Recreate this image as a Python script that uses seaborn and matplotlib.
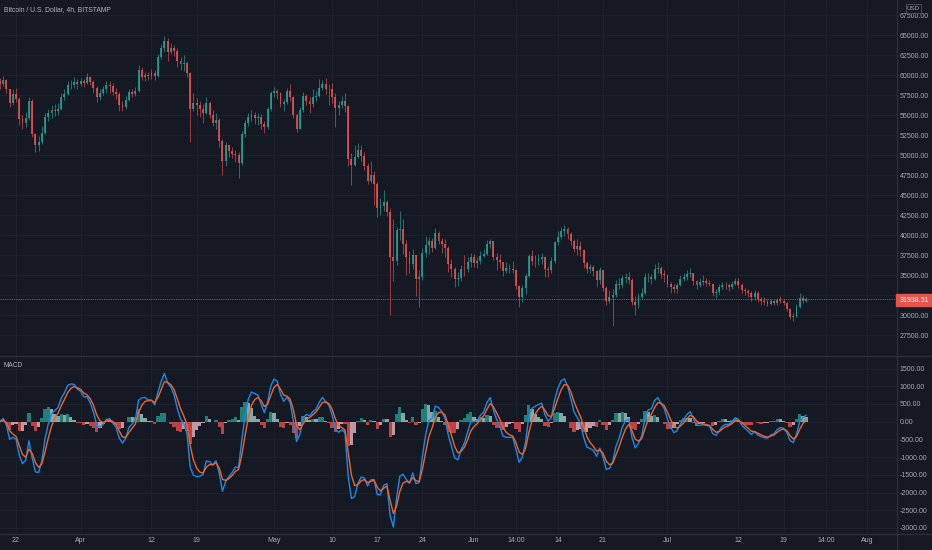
import numpy as np
import pandas as pd
import matplotlib
matplotlib.use("Agg")
import matplotlib.pyplot as plt
import matplotlib.dates as mdates
from matplotlib.patches import Rectangle
import seaborn as sns

# 12h bars, prices in thousands of USD, one line per day
first_open_k = 59.2
close_k = [
    58.9,
    59.4, 58.2, 56.5, 57.6, 57.0, 54.5, 54.0, 54.6, 56.8, 52.6, 51.3, 51.6,
    52.8, 54.8, 55.2, 55.6, 55.5, 55.8, 57.2, 57.6, 58.7, 58.8, 59.1, 58.9,
    59.3, 59.0, 59.7, 59.1, 58.4, 57.2, 57.8, 58.3, 58.8, 58.6, 57.9, 57.6,
    56.2, 56.0, 56.9, 57.9, 57.6, 58.0, 60.6, 59.8, 60.0, 59.9, 60.3, 59.9,
    62.3, 63.4, 64.3, 62.9, 63.4, 63.0, 61.8, 61.4, 61.5, 60.3, 55.8, 56.5,
    56.2, 55.7, 55.3, 56.5, 55.0, 54.0, 54.4, 51.7, 49.3, 51.2, 50.5, 50.1,
    50.0, 49.0, 52.6, 54.0, 54.8, 55.0, 54.6, 54.8, 53.9, 53.5, 55.8, 57.7,
    58.0, 57.7, 56.4, 56.6, 58.0, 57.2, 55.0, 53.3, 55.6, 57.4, 56.8, 56.4,
    57.2, 57.4, 58.4, 58.9, 58.2, 58.2, 57.2, 55.9, 56.3, 56.8, 56.1, 49.5,
    48.8, 49.7, 50.6, 49.9, 48.6, 46.8, 47.5, 46.4, 43.4, 43.6, 44.1, 42.9,
    37.2, 36.7, 40.6, 40.8, 38.9, 37.3, 36.4, 37.5, 34.5, 34.7, 37.8, 38.7,
    39.2, 38.4, 40.2, 39.3, 38.9, 38.4, 36.4, 35.7, 34.5, 34.6, 35.8, 35.7,
    36.6, 37.3,
    36.5, 36.7, 37.4, 37.6, 38.9, 39.2, 37.3, 36.9, 36.6, 35.5, 35.9, 35.8,
    35.6, 33.6, 32.2, 33.4, 34.9, 37.4, 36.8, 36.7, 37.0, 37.3, 35.7, 35.6,
    36.7, 39.1, 39.8, 40.5, 40.8, 40.1, 39.2, 38.3, 38.6, 38.1, 36.5, 35.8,
    36.0, 35.5, 34.4, 35.6, 33.4, 31.7, 32.2, 32.5, 33.9, 33.7, 34.6, 34.7,
    34.4, 31.6, 31.2, 32.3, 32.8, 34.7, 34.8, 34.5, 35.8, 35.9, 35.1, 35.0,
    33.9, 33.5, 33.2, 33.8, 34.5, 34.7, 35.1, 35.3, 34.2, 33.7, 34.1, 34.2,
    34.0, 33.9, 32.8, 32.9, 33.5, 33.8, 33.7, 33.5, 33.9, 34.3, 33.8, 33.1,
    33.0, 32.7, 32.3, 32.8, 32.0, 31.8, 31.6, 31.4, 31.7, 31.5, 31.9, 31.8,
    31.5, 30.8, 29.8, 29.8, 31.0, 32.1, 31.8, 31.93851,
]
high_k = [
    59.6,
    59.9, 59.5, 58.3, 58.3, 58.4, 57.2, 55.0, 55.4, 57.3, 57.0, 52.8, 52.4,
    53.6, 55.2, 55.7, 56.2, 56.4, 56.5, 57.8, 58.3, 59.2, 59.4, 59.7, 59.5,
    59.6, 59.5, 60.2, 59.9, 59.4, 58.6, 58.2, 58.6, 59.3, 59.2, 59.0, 58.4,
    57.9, 56.8, 57.4, 58.2, 58.3, 58.5, 61.2, 61.0, 60.4, 60.4, 60.8, 60.6,
    62.6, 63.9, 64.9, 64.6, 64.0, 63.7, 63.4, 62.3, 62.5, 61.8, 60.4, 57.7,
    57.1, 56.8, 56.4, 57.2, 56.7, 55.6, 55.2, 54.6, 52.0, 51.6, 51.3, 51.0,
    50.6, 50.4, 53.0, 54.4, 55.3, 55.6, 55.4, 55.3, 55.1, 54.2, 56.0, 58.0,
    58.5, 58.3, 57.9, 57.0, 58.4, 58.9, 57.4, 55.3, 56.0, 57.9, 57.6, 57.2,
    58.3, 58.0, 59.5, 59.4, 59.6, 58.9, 59.0, 57.7, 56.8, 57.4, 57.8, 56.3,
    50.2, 51.3, 51.5, 51.2, 50.4, 49.0, 49.3, 48.0, 46.6, 44.6, 45.6, 44.4,
    43.4, 42.0, 41.0, 43.0, 42.0, 39.4, 38.0, 38.2, 37.4, 35.6, 38.4, 39.9,
    39.8, 39.6, 40.9, 40.5, 39.6, 39.5, 38.6, 37.0, 36.0, 35.4, 36.3, 37.5,
    37.2, 37.7,
    37.6, 37.2, 38.0, 38.2, 39.4, 39.5, 39.2, 37.8, 37.6, 36.6, 36.6, 36.4,
    36.8, 35.8, 33.7, 33.8, 35.3, 37.6, 38.1, 37.5, 37.6, 37.7, 37.4, 36.1,
    37.2, 39.3, 40.5, 41.0, 41.3, 41.0, 40.4, 39.5, 39.5, 39.2, 38.2, 36.8,
    36.4, 36.3, 35.6, 36.0, 35.6, 33.6, 33.1, 33.2, 34.4, 34.6, 35.0, 35.3,
    35.4, 34.6, 32.4, 32.7, 33.4, 35.2, 35.3, 35.1, 36.4, 36.6, 36.1, 35.6,
    35.0, 34.1, 33.9, 34.0, 35.0, 35.2, 35.6, 35.9, 35.3, 34.4, 34.6, 35.0,
    34.6, 34.4, 34.0, 33.3, 33.9, 34.1, 34.1, 34.0, 34.2, 34.6, 34.6, 34.0,
    33.4, 33.3, 33.0, 33.1, 33.0, 32.3, 32.2, 32.0, 32.0, 31.9, 32.1, 32.4,
    32.0, 31.6, 30.9, 30.2, 31.4, 32.8, 32.5, 32.3,
]
low_k = [
    58.2,
    58.6, 57.8, 56.0, 56.2, 56.6, 53.8, 53.2, 53.5, 54.4, 52.2, 50.4, 50.5,
    51.4, 52.6, 54.2, 54.6, 54.9, 55.0, 55.6, 56.9, 57.5, 58.2, 58.4, 58.3,
    58.6, 58.5, 58.9, 58.7, 57.8, 56.6, 56.9, 57.5, 57.8, 57.7, 57.5, 57.0,
    55.5, 55.5, 55.8, 56.7, 57.2, 57.4, 57.9, 59.4, 59.3, 59.4, 59.5, 59.4,
    59.8, 62.0, 62.9, 61.8, 62.6, 62.4, 61.0, 60.6, 60.5, 59.8, 51.6, 55.5,
    55.0, 54.7, 54.0, 55.1, 54.6, 53.6, 53.3, 51.0, 47.5, 48.6, 49.8, 49.6,
    49.1, 47.1, 48.8, 52.3, 53.6, 54.3, 53.9, 53.8, 53.3, 52.8, 53.3, 55.5,
    57.3, 57.0, 56.0, 55.5, 56.4, 56.8, 54.6, 52.9, 53.2, 55.4, 56.2, 55.3,
    56.0, 56.8, 57.2, 58.1, 57.6, 56.3, 56.5, 53.5, 55.0, 55.9, 55.4, 48.6,
    46.2, 48.6, 49.6, 49.2, 48.1, 46.4, 46.5, 43.8, 42.2, 42.5, 43.0, 42.4,
    30.0, 34.3, 36.2, 39.4, 37.6, 35.0, 35.2, 35.8, 32.4, 31.0, 34.4, 37.2,
    37.6, 37.9, 38.3, 38.9, 37.8, 37.2, 35.4, 34.7, 33.5, 33.6, 34.2, 34.9,
    35.4, 36.0,
    36.0, 35.9, 36.4, 37.2, 37.5, 38.4, 36.9, 35.6, 35.9, 34.9, 35.3, 35.3,
    35.2, 33.3, 31.0, 31.6, 32.6, 34.8, 36.2, 36.0, 36.3, 36.4, 34.8, 34.8,
    35.2, 36.5, 38.7, 39.5, 39.9, 39.5, 38.8, 37.9, 37.5, 37.4, 35.9, 35.2,
    35.3, 34.9, 33.5, 33.9, 33.0, 31.3, 31.5, 28.6, 32.3, 33.2, 33.4, 34.0,
    33.9, 31.2, 30.0, 30.9, 32.0, 32.6, 34.1, 33.9, 34.4, 35.3, 34.6, 34.1,
    33.5, 32.8, 32.7, 32.8, 33.6, 34.2, 34.4, 34.8, 33.7, 33.2, 33.5, 33.7,
    33.6, 33.6, 32.4, 32.1, 32.6, 33.2, 33.2, 33.0, 33.3, 33.7, 33.4, 32.7,
    32.5, 32.3, 31.8, 31.9, 31.6, 31.3, 31.2, 31.1, 31.2, 31.2, 31.3, 31.5,
    31.2, 30.5, 29.5, 29.3, 29.7, 30.9, 31.5, 31.6,
]

first_bar = "2021-03-19 12:00"
tick_dates = ["2021-03-22 00:00", "2021-04-01 00:00", "2021-04-12 00:00", "2021-04-19 00:00",
              "2021-05-01 00:00", "2021-05-10 00:00", "2021-05-17 00:00", "2021-05-24 00:00",
              "2021-06-01 00:00", "2021-06-07 14:00", "2021-06-14 00:00", "2021-06-21 00:00",
              "2021-07-01 00:00", "2021-07-12 00:00", "2021-07-19 00:00", "2021-07-25 14:00",
              "2021-08-01 00:00"]
tick_labels = ["22", "Apr", "12", "19", "May", "10", "17", "24", "Jun", "14:00",
               "14", "21", "Jul", "12", "19", "14:00", "Aug"]
price_ticks = np.arange(27500, 67501, 2500)
macd_ticks = np.arange(-3000, 1501, 500)

BG = "#151924"
GRID = "#1e222d"
BORDER = "#2a2e39"
TXT = "#a7aab3"
UP = "#26a69a"
DOWN = "#ef5350"
FS = 5.0

sns.set_theme(style="dark")
plt.rcParams["font.family"] = ["Liberation Sans", "DejaVu Sans"]

close = np.array(close_k) * 1000
opens = np.concatenate([[first_open_k * 1000], close[:-1]])
high = np.maximum(np.array(high_k) * 1000, np.maximum(opens, close))
low = np.minimum(np.array(low_k) * 1000, np.minimum(opens, close))
times = pd.date_range(first_bar, periods=len(close), freq="12h")
x = mdates.date2num(times)

# MACD 12/26/9 of the 4h chart, alphas rescaled for 12h bars
s = pd.Series(close)
fast = s.ewm(alpha=1 - (11 / 13) ** 3, adjust=False).mean()
slow = s.ewm(alpha=1 - (25 / 27) ** 3, adjust=False).mean()
macd = fast - slow
signal = macd.ewm(alpha=1 - (8 / 10) ** 3, adjust=False).mean()
hist = (macd - signal).values
prev = np.concatenate([[0], hist[:-1]])
hist_cols = []
for h, p in zip(hist, prev):
    if h >= 0:
        hist_cols.append("#26a69a" if h > p else "#b2dfdb")
    else:
        hist_cols.append("#ffcdd2" if h > p else "#ff5252")

W, H = 932, 550
fig = plt.figure(figsize=(W / 100, H / 100), dpi=100, facecolor=BG)
ax1 = fig.add_axes([0, 1 - 355 / H, 896 / W, 355 / H])
ax2 = fig.add_axes([0, 1 - 533 / H, 896 / W, (533 - 356) / H])

jun1 = mdates.date2num(pd.Timestamp("2021-06-01"))
xlim = (jun1 - 474 / 6.45, jun1 + (896 - 474) / 6.45)
tick_x = mdates.date2num(pd.to_datetime(tick_dates, format="%Y-%m-%d %H:%M"))

for ax in (ax1, ax2):
    ax.set_facecolor(BG)
    ax.set_xlim(*xlim)
    ax.set_xticks(tick_x)
    ax.grid(True, color=GRID, lw=0.7)
    ax.set_axisbelow(True)
    for sp in ax.spines.values():
        sp.set_visible(False)
    ax.yaxis.tick_right()
    ax.tick_params(axis="both", length=0, colors=TXT, labelsize=FS, pad=2.6)

# candles
cols = np.where(close >= opens, UP, DOWN)
ax1.vlines(x, low, high, colors=cols, lw=0.55, alpha=0.8)
ax1.bar(x, np.maximum(np.abs(close - opens), 80), bottom=np.minimum(opens, close),
        width=0.3, color=cols, lw=0, alpha=0.8)
ax1.axhline(close[-1], color=DOWN, lw=0.6, ls=(0, (1.5, 1.2)), alpha=0.8)
ax1.set_ylim(25000, 69375)
ax1.set_yticks(price_ticks)
# the 32500 label sits under the last-price tag
ax1.set_yticklabels(["" if v == 32500 else f"{v:.2f}" for v in price_ticks])
ax1.set_xticklabels([])

# MACD panel
ax2.bar(x, hist, width=0.5, color=hist_cols, lw=0, alpha=0.72)
sns.lineplot(x=x, y=macd.values, ax=ax2, color="#1a8ae8", lw=1.0)
sns.lineplot(x=x, y=signal.values, ax=ax2, color="#f0642a", lw=1.0)
ax2.set_ylim(-3142, 1855)
ax2.set_yticks(macd_ticks)
ax2.set_yticklabels([f"{v:.2f}" for v in macd_ticks])
ax2.set_xticklabels(tick_labels)
ax2.tick_params(axis="x", pad=3.2)
ax2.set_xlabel("")
ax2.set_ylabel("")

# panel borders
fig.add_artist(plt.Line2D([0, 1], [1 - 355.5 / H] * 2, color=BORDER, lw=1))
fig.add_artist(plt.Line2D([0, 1], [1 - 533.5 / H] * 2, color=BORDER, lw=1))
fig.add_artist(plt.Line2D([896.5 / W] * 2, [0, 1], color=BORDER, lw=1))

# last price tag and currency box
fig.add_artist(Rectangle((896 / W, 1 - 306 / H), 36 / W, 12 / H,
                         transform=fig.transFigure, color="#e5534b", zorder=5))
fig.text(914 / W, 1 - 300 / H, f"{close[-1]:.2f}", color="white", fontsize=FS,
         ha="center", va="center", zorder=6)
fig.add_artist(Rectangle((905.5 / W, 1 - 13 / H), 15 / W, 8.5 / H, transform=fig.transFigure,
                         facecolor=BG, edgecolor="#50535e", lw=0.6, zorder=5))
fig.text(913 / W, 1 - 8.8 / H, "USD", color=TXT, fontsize=4.4, ha="center", va="center", zorder=6)

fig.text(4 / W, 1 - 9.5 / H, "Bitcoin / U.S. Dollar, 4h, BITSTAMP", color="#b2b5be",
         fontsize=4.9, ha="left", va="center")
fig.text(4 / W, 1 - 365.5 / H, "MACD", color="#b2b5be", fontsize=4.7, ha="left", va="center")

fig.savefig("out.png", dpi=100, facecolor=BG)
